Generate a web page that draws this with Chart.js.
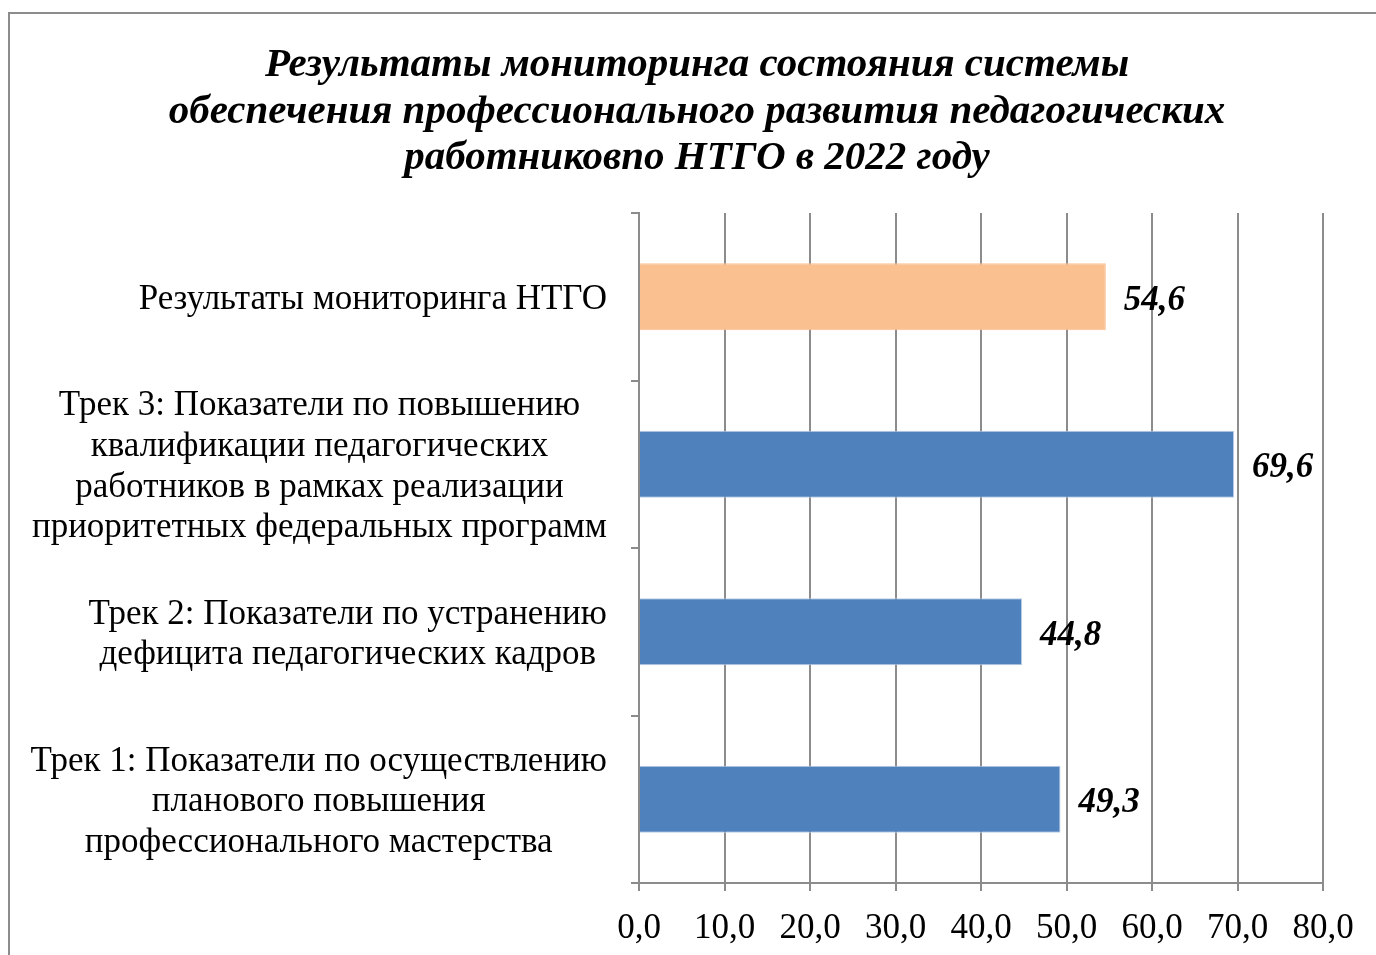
<!DOCTYPE html>
<html>
<head>
<meta charset="utf-8">
<script src="https://cdn.jsdelivr.net/npm/chart.js@4/dist/chart.umd.min.js"></script>
<style>
  html, body { margin: 0; padding: 0; background: #fff; overflow: hidden; width: 1376px; height: 955px; }
  #frame { position: absolute; left: 8px; top: 12px; width: 2000px; height: 2000px; border: 2px solid #8c8c8c; box-sizing: border-box; }
  #title { position: absolute; left: 0; width: 1394px; top: 39px; text-align: center;
           font-family: 'Liberation Serif', 'Times New Roman', serif; font-weight: bold; font-style: italic;
           font-size: 41px; line-height: 46.5px; color: #000; white-space: nowrap; }
  #c { position: absolute; left: 0; top: 0; }
</style>
</head>
<body>
<div id="frame"></div>
<canvas id="c" width="1376" height="955"></canvas>
<div id="title">Результаты мониторинга состояния системы<br>обеспечения профессионального развития педагогических<br>работниковпо НТГО в 2022 году</div>
<script>
// ---- data ----
const categories = [
  ['Результаты мониторинга НТГО'],
  ['Трек 3: Показатели по повышению', 'квалификации педагогических', 'работников в рамках реализации', 'приоритетных федеральных программ'],
  ['Трек 2: Показатели по устранению', 'дефицита педагогических кадров'],
  ['Трек 1: Показатели по осуществлению', 'планового повышения', 'профессионального мастерства']
];
const values = [54.6, 69.6, 44.8, 49.3];
const barColors = ['#FAC090', '#4F81BD', '#4F81BD', '#4F81BD'];
const barBorders = ['#FAC090', '#B9CDE5', '#B9CDE5', '#B9CDE5'];
const xTicks = { min: 0, max: 80, step: 10 };

const FONT = "'Liberation Serif', 'Times New Roman', serif";
const GRID = '#8c8c8c';
const fmt = v => Number(v).toFixed(1).replace('.', ',');

Chart.defaults.font.family = FONT;
Chart.defaults.color = '#000';

const catLabelPlugin = {
  id: 'catLabels',
  afterDraw(chart) {
    const ctx = chart.ctx;
    const y = chart.scales.y;
    const lh = 40.7;
    const rightEdge = y.right - 8 - 24;
    ctx.save();
    ctx.font = '35px ' + FONT;
    ctx.fillStyle = '#000';
    ctx.textAlign = 'center';
    ctx.textBaseline = 'middle';
    categories.forEach((lines, i) => {
      const cy = y.getPixelForTick(i) + 3;
      const w = Math.max(...lines.map(l => ctx.measureText(l).width));
      const cx = rightEdge - w / 2;
      const y0 = cy - (lines.length - 1) * lh / 2;
      lines.forEach((l, j) => ctx.fillText(l, cx, y0 + j * lh));
    });
    ctx.restore();
  }
};

const valueLabelPlugin = {
  id: 'valueLabels',
  afterDraw(chart) {
    const ctx = chart.ctx;
    const meta = chart.getDatasetMeta(0);
    ctx.save();
    ctx.font = 'italic bold 35px ' + FONT;
    ctx.fillStyle = '#000';
    ctx.textAlign = 'left';
    ctx.textBaseline = 'middle';
    meta.data.forEach((bar, i) => {
      ctx.fillText(fmt(values[i]), bar.x + 18, bar.y + 4);
    });
    ctx.restore();
  }
};

new Chart(document.getElementById('c'), {
  type: 'bar',
  data: {
    labels: categories,
    datasets: [{
      data: values,
      backgroundColor: barColors,
      borderColor: barBorders,
      borderWidth: 1,
      barPercentage: 0.4,
      categoryPercentage: 1.0
    }]
  },
  options: {
    indexAxis: 'y',
    responsive: false,
    animation: false,
    layout: { padding: { top: 213, right: 53, bottom: 0, left: 0 } },
    plugins: { legend: { display: false }, title: { display: false }, tooltip: { enabled: false } },
    scales: {
      x: {
        min: xTicks.min, max: xTicks.max,
        ticks: { stepSize: xTicks.step, callback: v => fmt(v), font: { size: 35 }, color: '#000', padding: 17, maxRotation: 0 },
        grid: { color: GRID, lineWidth: 2, tickLength: 8, drawTicks: true },
        border: { color: GRID, width: 2 },
        afterFit(s) { s.height = 72; }
      },
      y: {
        ticks: { display: false },
        grid: { offset: true, drawOnChartArea: false, drawTicks: true, tickLength: 8, color: GRID, lineWidth: 2 },
        border: { color: GRID, width: 2 },
        afterFit(s) { s.width = 639; }
      }
    }
  },
  plugins: [catLabelPlugin, valueLabelPlugin]
});
</script>
</body>
</html>
